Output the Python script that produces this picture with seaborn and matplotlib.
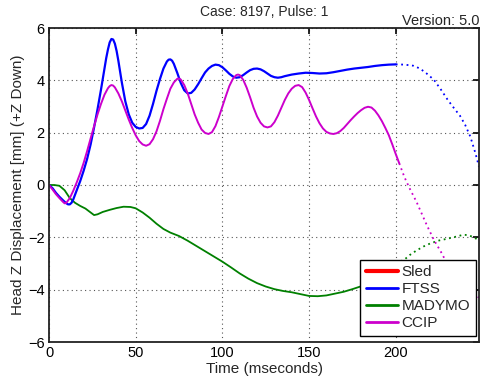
import matplotlib
matplotlib.use("Agg")
import matplotlib.pyplot as plt
import seaborn as sns
import pandas as pd
from matplotlib.lines import Line2D

# ---- data ----
ftss_t = [0, 2, 4, 6, 8, 10, 11, 12, 13, 14, 16, 18, 20, 22, 24, 26, 28, 30, 32, 33, 34, 35, 36, 37, 38,
          39, 40, 42, 44, 46, 48, 50, 52, 54, 56, 58, 60, 62, 64, 66, 68, 69, 70, 71, 72, 74, 76, 78, 80,
          82, 84, 86, 88, 90, 92, 94, 96, 98, 100, 102, 104, 106, 108, 110, 112, 114, 116, 118, 120, 122,
          124, 126, 128, 130, 132, 134, 136, 140, 144, 148, 152, 156, 160, 164, 168, 172, 176, 180, 184,
          188, 192, 196, 200]
ftss_v = [0, -0.12, -0.3, -0.45, -0.58, -0.7, -0.74, -0.74, -0.68, -0.55, -0.2, 0.15, 0.55, 1.0, 1.55,
          2.2, 2.9, 3.65, 4.45, 4.85, 5.18, 5.45, 5.58, 5.56, 5.4, 5.12, 4.75, 3.92, 3.2, 2.7, 2.38, 2.22,
          2.16, 2.18, 2.33, 2.65, 3.1, 3.6, 4.05, 4.45, 4.72, 4.79, 4.8, 4.75, 4.63, 4.28, 3.9, 3.62, 3.5,
          3.52, 3.65, 3.85, 4.08, 4.3, 4.45, 4.55, 4.6, 4.58, 4.5, 4.38, 4.25, 4.15, 4.1, 4.12, 4.2, 4.3,
          4.39, 4.44, 4.45, 4.42, 4.35, 4.26, 4.17, 4.12, 4.1, 4.12, 4.16, 4.22, 4.26, 4.29, 4.28, 4.26,
          4.27, 4.31, 4.36, 4.41, 4.45, 4.48, 4.51, 4.55, 4.58, 4.6, 4.61]
ftss_ext_t = [200, 205, 210, 214, 218, 222, 226, 230, 234, 237, 240, 243, 246, 248]
ftss_ext_v = [4.61, 4.6, 4.56, 4.45, 4.25, 4.02, 3.65, 3.25, 2.9, 2.65, 2.3, 1.85, 1.2, 0.7]

ccip_t = [0, 2, 4, 6, 8, 9, 10, 12, 14, 16, 18, 20, 22, 24, 26, 28, 30, 32, 34, 35, 36, 37, 38, 40, 42,
          44, 46, 48, 50, 52, 54, 56, 58, 60, 62, 64, 66, 68, 70, 72, 74, 75, 76, 78, 80, 82, 84, 86, 88,
          90, 92, 94, 96, 98, 100, 102, 104, 106, 108, 109, 110, 112, 114, 116, 118, 120, 122, 124, 126,
          128, 130, 132, 134, 136, 138, 140, 142, 144, 146, 148, 150, 152, 154, 156, 158, 160, 162, 164,
          166, 168, 170, 172, 174, 176, 178, 180, 182, 184, 186, 188, 190, 192, 194, 196, 198, 200, 202]
ccip_v = [0, -0.17, -0.35, -0.5, -0.64, -0.7, -0.68, -0.5, -0.22, 0.1, 0.45, 0.85, 1.3, 1.78, 2.25, 2.7,
          3.1, 3.45, 3.7, 3.78, 3.82, 3.8, 3.73, 3.5, 3.2, 2.85, 2.5, 2.18, 1.9, 1.68, 1.55, 1.5, 1.56,
          1.75, 2.05, 2.45, 2.9, 3.3, 3.68, 3.92, 4.06, 4.07, 4.03, 3.82, 3.5, 3.1, 2.7, 2.38, 2.12, 1.99,
          1.95, 2.02, 2.25, 2.6, 3.0, 3.4, 3.78, 4.05, 4.2, 4.22, 4.2, 4.02, 3.72, 3.35, 2.95, 2.62, 2.38,
          2.24, 2.2, 2.24, 2.4, 2.65, 2.95, 3.25, 3.5, 3.68, 3.79, 3.82, 3.74, 3.53, 3.25, 2.93, 2.62, 2.36,
          2.16, 2.03, 1.97, 1.95, 1.98, 2.06, 2.18, 2.33, 2.48, 2.62, 2.75, 2.86, 2.95, 2.99, 2.96, 2.84,
          2.66, 2.44, 2.18, 1.9, 1.55, 1.18, 0.83]
ccip_ext_t = [202, 205, 208, 212, 215, 218, 222, 226, 230, 234, 238, 242, 245, 248]
ccip_ext_v = [0.83, 0.3, -0.13, -0.65, -1.1, -1.55, -2.1, -2.55, -3.05, -3.45, -3.8, -4.05, -4.2, -4.3]

mady_t = [0, 3, 6, 9, 12, 15, 18, 21, 24, 26, 28, 31, 35, 39, 43, 47, 50, 54, 58, 62, 66, 70, 75, 80, 85,
          90, 95, 100, 105, 110, 115, 120, 125, 130, 135, 140, 145, 150, 155, 160, 165, 170, 175, 180,
          185, 190, 195, 200]
mady_v = [0, 0, -0.03, -0.2, -0.5, -0.68, -0.8, -0.9, -1.05, -1.15, -1.12, -1.03, -0.95, -0.88, -0.83,
          -0.84, -0.89, -1.05, -1.25, -1.48, -1.68, -1.82, -1.95, -2.13, -2.33, -2.53, -2.73, -2.93, -3.15,
          -3.38, -3.58, -3.75, -3.88, -3.98, -4.05, -4.1, -4.17, -4.24, -4.25, -4.22, -4.15, -4.08, -3.98,
          -3.87, -3.72, -3.5, -3.25, -3.0]
mady_ext_t = [200, 205, 208, 212, 216, 220, 225, 230, 235, 239, 242, 245, 248]
mady_ext_v = [-3.0, -2.85, -2.68, -2.5, -2.35, -2.23, -2.12, -2.05, -1.97, -1.9, -1.92, -2.0, -2.12]

series_names = ["Sled", "FTSS", "MADYMO", "CCIP"]
series_colors = ["#ff0000", "#0000ff", "#008000", "#cc00cc"]

x_ticks = [0, 50, 100, 150, 200]
y_ticks = [-6, -4, -2, 0, 2, 4, 6]

# ---- figure ----
sns.set_style("white")
plt.rcParams["font.family"] = ["Liberation Sans", "DejaVu Sans"]

fig = plt.figure(figsize=(4.84, 3.84), dpi=100)
ax = fig.add_axes([49 / 484, 1 - 342 / 384, 430 / 484, 314 / 384])

def draw(t, v, color, lw, ls):
    df = pd.DataFrame({"t": t, "v": v})
    sns.lineplot(data=df, x="t", y="v", ax=ax, color=color, linewidth=lw, linestyle=ls,
                 sort=False, estimator=None, legend=False)

draw(mady_t, mady_v, series_colors[2], 1.3, "-")
draw(mady_ext_t, mady_ext_v, series_colors[2], 1.3, (0, (1, 2)))
draw(ftss_t, ftss_v, series_colors[1], 1.6, "-")
draw(ftss_ext_t, ftss_ext_v, series_colors[1], 1.3, (0, (1, 2)))
draw(ccip_t, ccip_v, series_colors[3], 1.4, "-")
draw(ccip_ext_t, ccip_ext_v, series_colors[3], 1.3, (0, (1, 2)))

ax.set_xlim(0, 248)
ax.set_ylim(-6, 6)
ax.set_xticks(x_ticks)
ax.set_yticks(y_ticks)
ax.tick_params(direction="in", length=4, width=1.2, top=True, right=True,
               labelsize=10.5, colors="black", pad=3)
for s in ax.spines.values():
    s.set_linewidth(1.3)
    s.set_color("#222222")
    s.set_visible(True)
ax.grid(True, linestyle=(0, (1, 3)), color="#555555", linewidth=0.8)
ax.set_axisbelow(True)

ax.set_xlabel("Time (mseconds)", fontsize=11, labelpad=1)
ax.set_ylabel("Head Z Displacement [mm] (+Z Down)", fontsize=11, labelpad=2)

handles = [Line2D([], [], color=series_colors[0], linewidth=3),
           Line2D([], [], color=series_colors[1], linewidth=2),
           Line2D([], [], color=series_colors[2], linewidth=2),
           Line2D([], [], color=series_colors[3], linewidth=2)]
leg = ax.legend(handles, series_names, loc="lower right", bbox_to_anchor=(0.9923, 0.02),
                borderaxespad=0, fontsize=11, frameon=True, fancybox=False,
                edgecolor="black", framealpha=1, handlelength=2.1, handletextpad=0.25,
                labelspacing=0.2, borderpad=0.35)
leg.get_frame().set_linewidth(1.0)

fig.text((49 + 479) / 2 / 484, 1 - 12.5 / 384, "Case: 8197, Pulse: 1", ha="center", va="center",
         fontsize=10)
fig.text(479 / 484, 1 - 21 / 384, "Version: 5.0", ha="right", va="center", fontsize=10.5)

fig.savefig("out.png", dpi=100)
